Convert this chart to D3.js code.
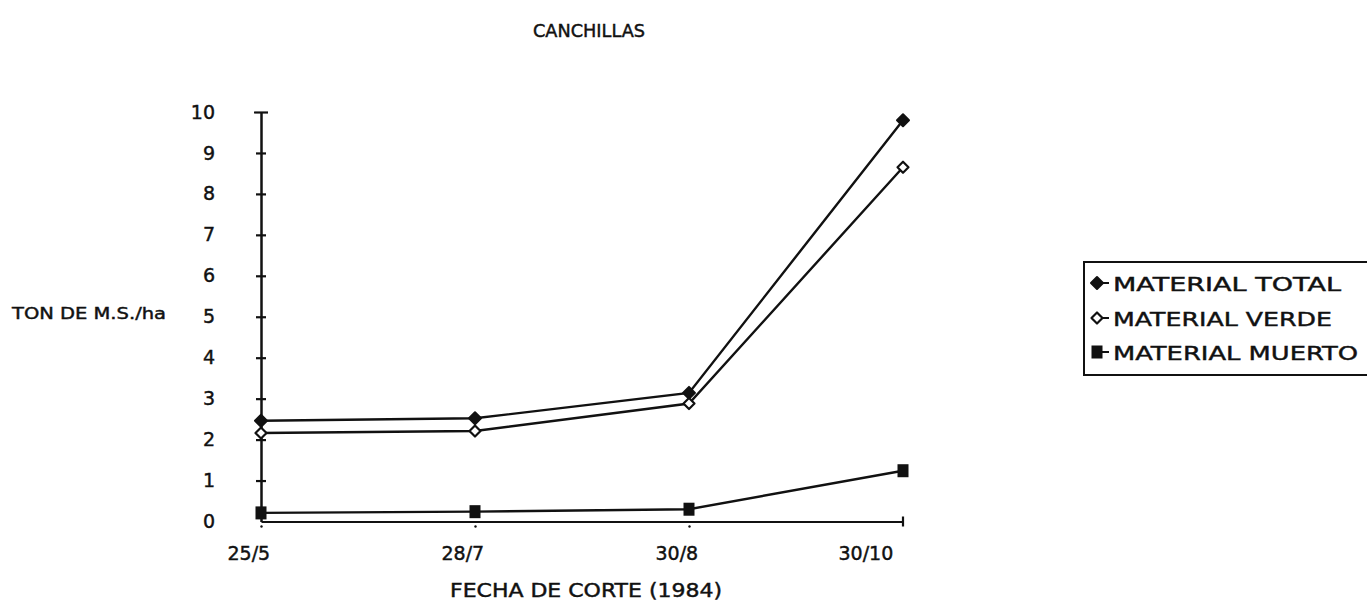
<!DOCTYPE html>
<html>
<head>
<meta charset="utf-8">
<script src="https://cdn.jsdelivr.net/npm/d3@7"></script>
<style>
  html, body { margin: 0; padding: 0; background: #fff; }
  svg { display: block; }
  text { font-family: "DejaVu Sans", "Liberation Sans", sans-serif; fill: #111; stroke: #111; stroke-width: 0.45px; }
</style>
</head>
<body>
<svg id="chart" width="1367" height="606"></svg>
<script>
// ---- data ----
const categories = ["25/5", "28/7", "30/8", "30/10"];
const materialTotal  = [2.46, 2.52, 3.14, 9.8];
const materialVerde  = [2.16, 2.21, 2.88, 8.65];
const materialMuerto = [0.21, 0.24, 0.30, 1.24];
const yTicks = [0,1,2,3,4,5,6,7,8,9,10];
const seriesNames = ["MATERIAL TOTAL", "MATERIAL VERDE", "MATERIAL MUERTO"];
const titleText = "CANCHILLAS";
const yLabel = "TON DE M.S./ha";
const xLabel = "FECHA DE CORTE (1984)";

const svg = d3.select("#chart");
svg.append("rect").attr("width", 1367).attr("height", 606).attr("fill", "#fff");

const x = d3.scalePoint().domain(categories).range([261, 903]);
const y = d3.scaleLinear().domain([0, 10]).range([521.5, 112]);

const ink = "#111";

// title
svg.append("text").attr("x", 533).attr("y", 37)
  .attr("font-size", 18).attr("textLength", 112).attr("lengthAdjust", "spacingAndGlyphs")
  .text(titleText);

// y label
svg.append("text").attr("x", 12).attr("y", 319)
  .attr("font-size", 16).attr("textLength", 154).attr("lengthAdjust", "spacingAndGlyphs")
  .text(yLabel);

// x label
svg.append("text").attr("x", 450).attr("y", 597)
  .attr("font-size", 19).attr("textLength", 272).attr("lengthAdjust", "spacingAndGlyphs")
  .text(xLabel);

// y axis
const yAxis = svg.append("g").attr("transform", `translate(${x(categories[0])},0)`)
  .call(d3.axisLeft(y).tickValues(yTicks).tickFormat(d3.format("d")).tickSize(5).tickSizeOuter(0).tickPadding(41));
yAxis.select(".domain").attr("stroke", ink).attr("stroke-width", 2.5);
yAxis.selectAll(".tick line").attr("x1", -5).attr("x2", 5).attr("stroke", ink).attr("stroke-width", 2.2);
yAxis.selectAll(".tick").filter(d => d === 10).select("line").attr("x1", -7).attr("x2", 7);
yAxis.selectAll(".tick").filter(d => d === 0).select("line").remove();
yAxis.selectAll(".tick text").attr("font-size", 19).attr("fill", ink).attr("font-family", "DejaVu Sans, sans-serif");

// x axis
const xAxis = svg.append("g").attr("transform", `translate(0,${y(0)})`)
  .call(d3.axisBottom(x).tickSize(0).tickSizeOuter(0).tickPadding(25));
xAxis.select(".domain").attr("stroke", ink).attr("stroke-width", 2.2);
xAxis.selectAll(".tick text").attr("font-size", 19).attr("fill", ink)
  .attr("text-anchor", "start")
  .attr("x", (d, i) => i === categories.length - 1 ? -65 : -34);
// small dot ticks under category points
xAxis.selectAll(".tick").filter((d, i) => i < categories.length - 1)
  .append("circle").attr("cx", 0).attr("cy", 5).attr("r", 1.2).attr("fill", ink);
// end tick
xAxis.append("line").attr("x1", x(categories[3])).attr("x2", x(categories[3]))
  .attr("y1", -5).attr("y2", 5).attr("stroke", ink).attr("stroke-width", 2.2);

// series
const series = [
  { name: seriesNames[0], values: materialTotal, marker: "total" },
  { name: seriesNames[1], values: materialVerde, marker: "verde" },
  { name: seriesNames[2], values: materialMuerto, marker: "muerto" }
];

const line = d3.line().x((d, i) => x(categories[i])).y(d => y(d));

function drawMarker(g, kind, cx, cy) {
  if (kind === "total") {
    g.append("path")
      .attr("d", `M${cx},${cy-6} L${cx+6},${cy} L${cx},${cy+6} L${cx-6},${cy} Z`)
      .attr("fill", ink).attr("stroke", ink).attr("stroke-width", 2).attr("stroke-linejoin", "round");
  } else if (kind === "verde") {
    g.append("path")
      .attr("d", `M${cx},${cy-5.5} L${cx+5.5},${cy} L${cx},${cy+5.5} L${cx-5.5},${cy} Z`)
      .attr("fill", "#fff").attr("stroke", ink).attr("stroke-width", 2.2).attr("stroke-linejoin", "round");
  } else {
    g.append("rect").attr("x", cx - 5.5).attr("y", cy - 6.5).attr("width", 11).attr("height", 13)
      .attr("fill", ink);
  }
}

const plot = svg.append("g");
series.forEach(s => {
  plot.append("path").datum(s.values).attr("d", line)
    .attr("fill", "none").attr("stroke", ink).attr("stroke-width", 2.4);
});
series.forEach(s => {
  s.values.forEach((v, i) => drawMarker(plot, s.marker, x(categories[i]), y(v)));
});

// legend
const legend = svg.append("g");
legend.append("rect").attr("x", 1084).attr("y", 262).attr("width", 300).attr("height", 113)
  .attr("fill", "none").attr("stroke", ink).attr("stroke-width", 2);
const rowY = [283, 318, 352];
const lens = [228, 219, 245];
series.forEach((s, i) => {
  const cy = rowY[i];
  legend.append("line").attr("x1", 1098).attr("x2", 1109).attr("y1", cy).attr("y2", cy)
    .attr("stroke", ink).attr("stroke-width", 2);
  drawMarker(legend, s.marker, 1097, cy);
  legend.append("text").attr("x", 1113).attr("y", cy + 8)
    .attr("font-size", 20).attr("textLength", lens[i]).attr("lengthAdjust", "spacingAndGlyphs")
    .text(s.name);
});
</script>
</body>
</html>
